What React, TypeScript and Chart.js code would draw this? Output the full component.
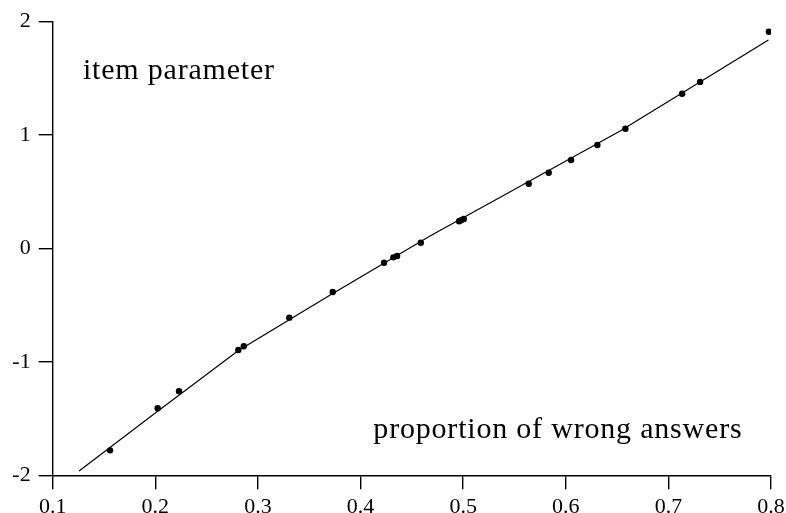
import React, { useEffect, useRef } from "react";
import { Chart, registerables } from "chart.js";

Chart.register(...registerables);

// observed items: proportion of wrong answers vs. item parameter
const proportionWrong = [
  0.1559, 0.2023, 0.2231, 0.2809, 0.2862, 0.3306, 0.3729, 0.4229, 0.432, 0.4356,
  0.4587, 0.496, 0.498, 0.5006, 0.5639, 0.5834, 0.6052, 0.6308, 0.6581, 0.7134,
  0.7309, 0.7979,
];
const itemParameter = [
  -1.78, -1.409, -1.259, -0.895, -0.862, -0.61, -0.384, -0.125, -0.078, -0.066,
  0.051, 0.24, 0.249, 0.26, 0.571, 0.668, 0.78, 0.913, 1.056, 1.365, 1.469, 1.912,
];

// fitted curve
const curveX = [0.1257, 0.2, 0.281, 0.3705, 0.4677, 0.56, 0.653, 0.7975];
const curveY = [-1.962, -1.45, -0.9, -0.41, 0.11, 0.571, 1.036, 1.839];

const xTicks = [0.1, 0.2, 0.3, 0.4, 0.5, 0.6, 0.7, 0.8];
const yTicks = [-2, -1, 0, 1, 2];

const labelYAxis = "item parameter";
const labelXAxis = "proportion of wrong answers";

const SERIF = "'Liberation Serif', 'Times New Roman', serif";

export default function App() {
  const ref = useRef<HTMLCanvasElement | null>(null);

  useEffect(() => {
    const canvas = ref.current;
    if (!canvas) return;

    const textPlugin = {
      id: "axisTexts",
      afterDraw(chart: any) {
        const { ctx, scales } = chart;
        const xs = scales.x;
        const ys = scales.y;
        ctx.save();
        ctx.fillStyle = "#000";
        ctx.font = `30px ${SERIF}`;
        try {
          (ctx as any).letterSpacing = "0.8px";
        } catch (e) {}
        ctx.textAlign = "left";
        ctx.textBaseline = "alphabetic";
        ctx.fillText(labelYAxis, xs.getPixelForValue(0.1295), ys.getPixelForValue(1.495));
        ctx.fillText(labelXAxis, xs.getPixelForValue(0.4125), ys.getPixelForValue(-1.674));
        ctx.restore();
      },
    };

    const chart = new Chart(canvas, {
      type: "scatter",
      data: {
        datasets: [
          {
            type: "line",
            data: curveX.map((x, i) => ({ x, y: curveY[i] })),
            borderColor: "#000",
            borderWidth: 1.2,
            pointRadius: 0,
            fill: false,
            tension: 0,
          } as any,
          {
            data: proportionWrong.map((x, i) => ({ x, y: itemParameter[i] })),
            backgroundColor: "#000",
            borderColor: "#000",
            pointRadius: 3.2,
            pointBorderWidth: 0,
          },
        ],
      },
      options: {
        responsive: false,
        animation: false,
        layout: { padding: { top: 21.7, right: 15, left: 0, bottom: 0 } },
        plugins: {
          legend: { display: false },
          tooltip: { enabled: false },
        },
        scales: {
          x: {
            type: "linear",
            min: 0.1,
            max: 0.8,
            afterBuildTicks: (s: any) => {
              s.ticks = xTicks.map((v) => ({ value: v }));
            },
            afterFit: (s: any) => {
              s.height = 37.7;
              s.paddingLeft = 0;
              s.paddingRight = 0;
            },
            ticks: {
              color: "#000",
              font: { family: SERIF, size: 22 },
              padding: 5,
              maxRotation: 0,
              callback: (v: any) => Number(v).toFixed(1),
            },
            grid: {
              drawOnChartArea: false,
              tickLength: 14,
              color: "#000",
              lineWidth: 1.4,
            },
            border: { display: true, color: "#000", width: 1.4 },
          },
          y: {
            type: "linear",
            min: -2,
            max: 2,
            afterBuildTicks: (s: any) => {
              s.ticks = yTicks.map((v) => ({ value: v }));
            },
            afterFit: (s: any) => {
              s.width = 52.7;
              s.paddingTop = 0;
              s.paddingBottom = 0;
            },
            ticks: {
              color: "#000",
              font: { family: SERIF, size: 22 },
              padding: 8,
              callback: (v: any) => String(v),
            },
            grid: {
              drawOnChartArea: false,
              tickLength: 14,
              color: "#000",
              lineWidth: 1.4,
            },
            border: { display: true, color: "#000", width: 1.4 },
          },
        },
      },
      plugins: [textPlugin],
    });

    return () => chart.destroy();
  }, []);

  return (
    <div style={{ position: "fixed", left: 0, top: 0, width: 786, height: 513, background: "#fff" }}>
      <canvas ref={ref} width={786} height={513} style={{ width: 786, height: 513, display: "block" }} />
    </div>
  );
}
